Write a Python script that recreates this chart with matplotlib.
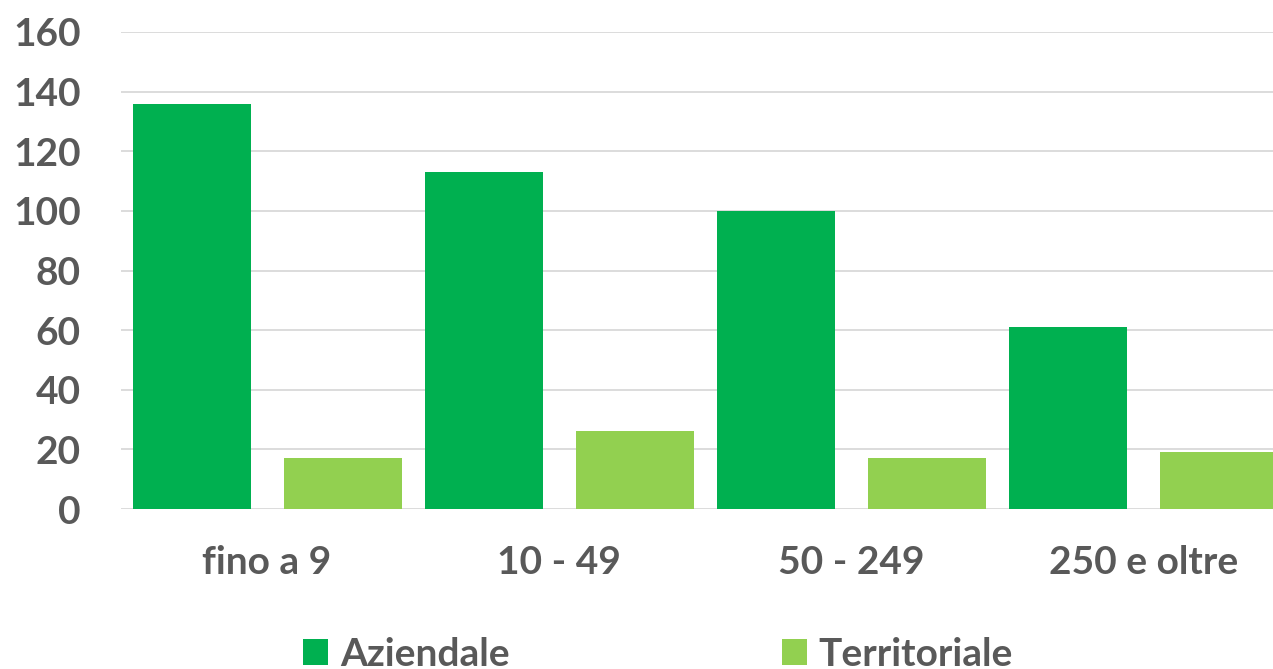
import numpy as np
import matplotlib.pyplot as plt
from matplotlib.patches import Patch

categories = ['fino a 9', '10 - 49', '50 - 249', '250 e oltre']
aziendale = [136, 113, 100, 61]
territoriale = [17, 26, 17, 19]
series_names = ['Aziendale', 'Territoriale']

DARK = '#00B050'
LIGHT = '#92D050'
TEXT = '#595959'

plt.rcParams['font.family'] = ['Lato', 'DejaVu Sans']
plt.rcParams['font.weight'] = 'bold'

fig = plt.figure(figsize=(12.73, 6.69), dpi=100)
# plot area runs a bit past the right edge, as in the original
ax = fig.add_axes([121 / 1273, 1 - 509 / 669, 1169 / 1273, (509 - 32) / 669])

x = np.arange(len(categories))
w = 0.404
off = 0.2585
ax.bar(x - off, aziendale, width=w, color=DARK, zorder=3)
ax.bar(x + off, territoriale, width=w, color=LIGHT, zorder=3)

ax.set_xlim(-0.5, len(categories) - 0.5)
ax.set_ylim(0, 160)
ax.set_yticks(range(0, 161, 20))
ax.set_xticks(x)
ax.set_xticklabels(categories)
ax.yaxis.grid(True, color='#d9d9d9', linewidth=1.3, zorder=0)
ax.set_axisbelow(True)
for s in ax.spines.values():
    s.set_visible(False)
ax.tick_params(axis='both', length=0, labelsize=28, labelcolor=TEXT)
ax.tick_params(axis='y', pad=29)
ax.tick_params(axis='x', pad=26)
for lab in ax.get_xticklabels() + ax.get_yticklabels():
    lab.set_fontweight('bold')

handles = [Patch(facecolor=DARK), Patch(facecolor=LIGHT)]
leg = fig.legend(handles, series_names, loc='center', bbox_to_anchor=(0.517, 0.022),
                 ncol=2, frameon=False, fontsize=28, handlelength=0.65, handleheight=0.65,
                 handletextpad=0.3, columnspacing=7.0, borderaxespad=0)
for t in leg.get_texts():
    t.set_color(TEXT)
    t.set_fontweight('bold')

fig.savefig('out.png', dpi=100)
